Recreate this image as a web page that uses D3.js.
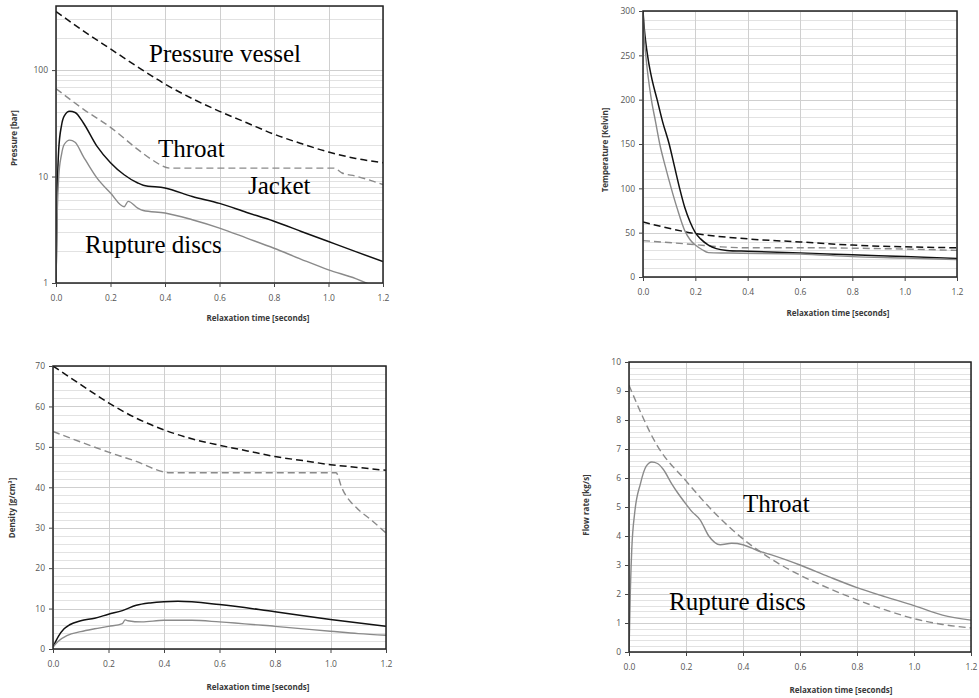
<!DOCTYPE html>
<html>
<head>
<meta charset="utf-8">
<script src="https://cdn.jsdelivr.net/npm/d3@7/dist/d3.min.js"></script>
<style>
body { margin: 0; background: #fff; }
svg { display: block; }
</style>
</head>
<body>
<script>
// ---- pressure [bar], log axis ----
var pVesselT = [0, 0.1, 0.2, 0.3, 0.4, 0.5, 0.6, 0.7, 0.8, 0.9, 1.0, 1.1, 1.2];
var pVessel  = [355, 234, 158, 107, 74, 54, 41, 32, 25, 20.4, 17, 14.8, 13.5];
var pJacketT = [0, 0.1, 0.2, 0.3, 0.35, 0.42, 1.02, 1.05, 1.1, 1.2];
var pJacket  = [67, 43, 29, 18, 14.5, 12, 12, 10.8, 10.1, 8.4];
var pThroatT = [0, 0.005, 0.01, 0.02, 0.03, 0.05, 0.07, 0.1, 0.15, 0.2, 0.25, 0.3, 0.32, 0.4, 0.5, 0.6, 0.7, 0.8, 0.9, 1.0, 1.1, 1.2];
var pThroat  = [1, 8, 18, 30, 37, 41, 40, 32, 19.3, 13.5, 10.4, 8.7, 8.3, 7.8, 6.5, 5.6, 4.6, 3.8, 3.05, 2.45, 1.97, 1.59];
var pDiscT   = [0, 0.005, 0.01, 0.02, 0.03, 0.05, 0.07, 0.1, 0.15, 0.2, 0.25, 0.265, 0.3, 0.32, 0.4, 0.5, 0.6, 0.7, 0.8, 0.9, 1.0, 1.1, 1.2];
var pDisc    = [1, 5, 10, 16, 20, 22, 21, 15.5, 9.7, 7.0, 5.2, 5.85, 5.06, 4.8, 4.55, 3.93, 3.28, 2.64, 2.12, 1.67, 1.33, 1.1, 0.85];

// ---- temperature [Kelvin] ----
var tVesselT = [0, 0.2, 0.4, 0.6, 0.8, 1.0, 1.2];
var tVessel  = [62, 49, 43, 39.5, 36, 34, 33];
var tJacketT = [0, 0.2, 0.3, 0.4, 0.6, 0.8, 1.0, 1.2];
var tJacket  = [41, 36.5, 34, 33, 33, 32.5, 31.5, 30];
var tThroatT = [0, 0.005, 0.01, 0.02, 0.035, 0.054, 0.075, 0.1, 0.12, 0.14, 0.16, 0.18, 0.2, 0.22, 0.25, 0.28, 0.32, 0.4, 0.6, 0.8, 1.0, 1.2];
var tThroat  = [300, 280, 266, 245, 222, 200, 175, 150, 125, 100, 78, 62, 50, 43, 36, 32, 30, 29, 27, 25, 23, 21];
var tDiscT   = [0, 0.005, 0.01, 0.02, 0.032, 0.048, 0.064, 0.085, 0.108, 0.13, 0.16, 0.18, 0.2, 0.225, 0.25, 0.32, 0.6, 0.8, 1.0, 1.2];
var tDisc    = [300, 270, 252, 225, 200, 175, 150, 125, 100, 78, 52, 42, 36, 31, 27.5, 27, 26, 23, 21.5, 19.6];

// ---- density [g/cm³] ----
var dVesselT = [0, 0.1, 0.2, 0.3, 0.4, 0.5, 0.6, 0.7, 0.8, 0.9, 1.0, 1.1, 1.2];
var dVessel  = [70, 65.4, 60.9, 57.1, 54.2, 52, 50.4, 49, 47.6, 46.6, 45.6, 44.9, 44.2];
var dJacketT = [0, 0.1, 0.2, 0.3, 0.4, 0.42, 1.02, 1.04, 1.1, 1.14, 1.2];
var dJacket  = [53.8, 51.2, 48.7, 46.4, 43.8, 43.6, 43.6, 40, 34.5, 32.3, 28.7];
var dThroatT = [0, 0.02, 0.04, 0.06, 0.1, 0.15, 0.2, 0.25, 0.3, 0.35, 0.4, 0.45, 0.6, 0.8, 1.0, 1.2];
var dThroat  = [0.5, 3.2, 5, 6, 7, 7.6, 8.6, 9.5, 10.8, 11.4, 11.7, 11.8, 11, 9.2, 7.3, 5.6];
var dDiscT   = [0, 0.02, 0.05, 0.1, 0.15, 0.2, 0.25, 0.26, 0.27, 0.32, 0.4, 0.5, 0.6, 0.8, 1.0, 1.1, 1.2];
var dDisc    = [0.5, 2, 3.3, 4.3, 5, 5.6, 6.3, 7.2, 7.0, 6.7, 7.1, 7.1, 6.7, 5.6, 4.4, 3.8, 3.4];

// ---- flow rate [kg/s] ----
var fThroatT = [0, 0.1, 0.2, 0.3, 0.4, 0.5, 0.6, 0.7, 0.8, 0.9, 1.0, 1.1, 1.2];
var fThroat  = [9.2, 7.1, 5.9, 4.8, 3.9, 3.2, 2.65, 2.2, 1.8, 1.45, 1.15, 0.95, 0.83];
var fDiscT   = [0, 0.005, 0.01, 0.02, 0.04, 0.06, 0.08, 0.1, 0.12, 0.15, 0.17, 0.2, 0.22, 0.25, 0.28, 0.32, 0.36, 0.4, 0.45, 0.5, 0.6, 0.7, 0.8, 0.9, 1.0, 1.1, 1.2];
var fDisc    = [0, 2.2, 3.6, 4.8, 5.8, 6.4, 6.55, 6.5, 6.3, 5.8, 5.5, 5.1, 4.85, 4.55, 4.0, 3.7, 3.75, 3.7, 3.5, 3.35, 3.0, 2.6, 2.22, 1.9, 1.6, 1.27, 1.1];

var xTicks = [0, 0.2, 0.4, 0.6, 0.8, 1.0, 1.2];
var xTitle = "Relaxation time [seconds]";

var svg = d3.select("body").append("svg")
    .attr("width", 979)
    .attr("height", 698);

var styles = {
  vessel: { color: "#111", width: 1.5, dash: "7,4" },
  jacket: { color: "#8a8a8a", width: 1.4, dash: "7,4" },
  throat: { color: "#111", width: 1.5, dash: null },
  disc:   { color: "#8a8a8a", width: 1.4, dash: null }
};

function zip(ts, vs) {
  return ts.map(function(t, i) { return [t, vs[i]]; });
}

function drawPanel(cfg, id) {
  var g = svg.append("g");
  var x = d3.scaleLinear().domain([0, 1.2]).range([cfg.left, cfg.right]);
  var y = cfg.log
    ? d3.scaleLog().domain(cfg.domain).range([cfg.bottom, cfg.top])
    : d3.scaleLinear().domain(cfg.domain).range([cfg.bottom, cfg.top]);

  // horizontal grid: minor then major
  g.append("g").selectAll("line").data(cfg.minor).join("line")
    .attr("x1", cfg.left).attr("x2", cfg.right)
    .attr("y1", function(d) { return Math.round(y(d)) + 0.5; })
    .attr("y2", function(d) { return Math.round(y(d)) + 0.5; })
    .attr("stroke", "#e2e2e2").attr("stroke-width", 1);
  g.append("g").selectAll("line").data(cfg.yTicks).join("line")
    .attr("x1", cfg.left).attr("x2", cfg.right)
    .attr("y1", function(d) { return Math.round(y(d)) + 0.5; })
    .attr("y2", function(d) { return Math.round(y(d)) + 0.5; })
    .attr("stroke", "#cfcfcf").attr("stroke-width", 1);
  // vertical grid
  g.append("g").selectAll("line").data(xTicks).join("line")
    .attr("x1", function(d) { return Math.round(x(d)) + 0.5; })
    .attr("x2", function(d) { return Math.round(x(d)) + 0.5; })
    .attr("y1", cfg.top).attr("y2", cfg.bottom)
    .attr("stroke", "#cfcfcf").attr("stroke-width", 1);

  g.append("clipPath").attr("id", "clip" + id)
    .append("rect")
    .attr("x", cfg.left).attr("y", cfg.top)
    .attr("width", cfg.right - cfg.left).attr("height", cfg.bottom - cfg.top);

  var line = d3.line()
    .x(function(d) { return x(d[0]); })
    .y(function(d) { return y(d[1]); })
    .curve(d3.curveMonotoneX);

  var lines = g.append("g").attr("clip-path", "url(#clip" + id + ")");
  cfg.series.forEach(function(s) {
    var st = styles[s.kind];
    lines.append("path")
      .attr("d", line(zip(s.t, s.v)))
      .attr("fill", "none")
      .attr("stroke", st.color)
      .attr("stroke-width", st.width)
      .attr("stroke-dasharray", st.dash);
  });

  // frame
  g.append("rect")
    .attr("x", cfg.left).attr("y", cfg.top)
    .attr("width", cfg.right - cfg.left).attr("height", cfg.bottom - cfg.top)
    .attr("fill", "none").attr("stroke", "#222").attr("stroke-width", 1.5);

  // axes
  var yAxis = d3.axisLeft(y).tickValues(cfg.yTicks).tickSize(4).tickPadding(4)
    .tickFormat(cfg.yFormat || d3.format("d"));
  var ya = g.append("g").attr("transform", "translate(" + cfg.left + ",0)").call(yAxis);
  var xAxis = d3.axisBottom(x).tickValues(xTicks).tickSize(4).tickPadding(8)
    .tickFormat(d3.format(".1f"));
  var xa = g.append("g").attr("transform", "translate(0," + cfg.bottom + ")").call(xAxis);
  [ya, xa].forEach(function(a) {
    a.select(".domain").remove();
    a.selectAll("line").attr("stroke", "#444");
    a.selectAll("text")
      .attr("fill", "#555")
      .style("font-family", "'Open Sans', sans-serif")
      .style("font-size", "8.5px");
  });

  g.append("text")
    .attr("x", cfg.xTitleX).attr("y", cfg.xTitleY)
    .attr("text-anchor", "middle")
    .style("font-family", "'Open Sans', sans-serif")
    .style("font-size", "8px").style("font-weight", "bold")
    .attr("fill", "#3a3a3a")
    .text(xTitle);

  g.append("text")
    .attr("transform", "translate(" + cfg.yTitleX + "," + cfg.yTitleY + ") rotate(-90)")
    .attr("text-anchor", "middle")
    .style("font-family", "'Open Sans', sans-serif")
    .style("font-size", "8px").style("font-weight", "bold")
    .attr("fill", "#3a3a3a")
    .text(cfg.yTitle);

  (cfg.notes || []).forEach(function(n) {
    g.append("text")
      .attr("x", n.x).attr("y", n.y)
      .style("font-family", "'Liberation Serif', 'Times New Roman', serif")
      .style("font-size", "25px")
      .attr("fill", "#000")
      .text(n.text);
  });
}

var logMinor = [];
[1, 10, 100].forEach(function(dec) {
  for (var k = 2; k <= 9; k++) if (dec * k <= 400) logMinor.push(dec * k);
});

drawPanel({
  left: 56, right: 383, top: 6, bottom: 283,
  log: true, domain: [1, 400], yTicks: [1, 10, 100], minor: logMinor,
  yTitle: "Pressure [bar]", yTitleX: 17, yTitleY: 138,
  xTitleX: 258, xTitleY: 321,
  series: [
    { kind: "vessel", t: pVesselT, v: pVessel },
    { kind: "jacket", t: pJacketT, v: pJacket },
    { kind: "throat", t: pThroatT, v: pThroat },
    { kind: "disc", t: pDiscT, v: pDisc }
  ],
  notes: [
    { text: "Pressure vessel", x: 149, y: 62 },
    { text: "Throat", x: 158, y: 157 },
    { text: "Jacket", x: 248, y: 194 },
    { text: "Rupture discs", x: 85, y: 253 }
  ]
}, 1);

drawPanel({
  left: 643, right: 957, top: 11, bottom: 277,
  log: false, domain: [0, 300], yTicks: d3.range(0, 301, 50), minor: d3.range(10, 300, 10),
  yTitle: "Temperature [Kelvin]", yTitleX: 608, yTitleY: 150,
  xTitleX: 838, xTitleY: 316,
  series: [
    { kind: "vessel", t: tVesselT, v: tVessel },
    { kind: "jacket", t: tJacketT, v: tJacket },
    { kind: "throat", t: tThroatT, v: tThroat },
    { kind: "disc", t: tDiscT, v: tDisc }
  ]
}, 2);

drawPanel({
  left: 53, right: 386, top: 366, bottom: 649,
  log: false, domain: [0, 70], yTicks: d3.range(0, 71, 10), minor: d3.range(2, 70, 2),
  yTitle: "Density [g/cm³]", yTitleX: 15, yTitleY: 508,
  xTitleX: 258, xTitleY: 690,
  series: [
    { kind: "vessel", t: dVesselT, v: dVessel },
    { kind: "jacket", t: dJacketT, v: dJacket },
    { kind: "throat", t: dThroatT, v: dThroat },
    { kind: "disc", t: dDiscT, v: dDisc }
  ]
}, 3);

drawPanel({
  left: 629, right: 971, top: 362, bottom: 652,
  log: false, domain: [0, 10], yTicks: d3.range(0, 11, 1), minor: d3.range(0.2, 10, 0.2),
  yTitle: "Flow rate [kg/s]", yTitleX: 589, yTitleY: 505,
  xTitleX: 841, xTitleY: 693,
  series: [
    { kind: "jacket", t: fThroatT, v: fThroat },
    { kind: "disc", t: fDiscT, v: fDisc }
  ],
  notes: [
    { text: "Throat", x: 743, y: 512 },
    { text: "Rupture discs", x: 669, y: 610 }
  ]
}, 4);
</script>
</body>
</html>
